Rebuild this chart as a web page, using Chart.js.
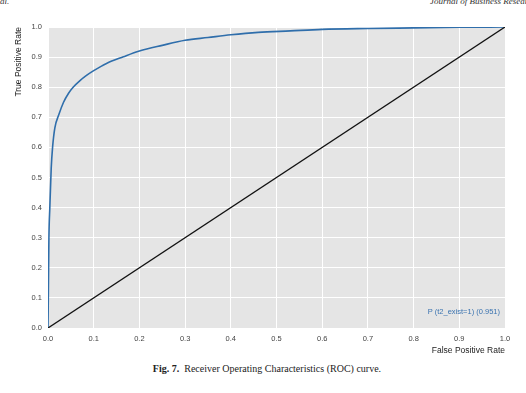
<!DOCTYPE html>
<html>
<head>
<meta charset="utf-8">
<script src="https://cdn.jsdelivr.net/npm/chart.js@4/dist/chart.umd.min.js"></script>
<style>
  html, body { margin:0; padding:0; background:#fff; width:526px; height:393px; overflow:hidden; }
  #wrap { position:absolute; left:0; top:0; width:526px; height:360px; }
  .hdr { position:absolute; top:-4px; font-family:"Liberation Serif", serif; font-style:italic; font-size:9px; color:#333; white-space:nowrap; }
  #cap { position:absolute; top:363px; left:4px; width:526px; text-align:center; font-family:"Liberation Serif", serif; font-size:10px; color:#222; }
</style>
</head>
<body>
<div class="hdr" style="left:0px;">al.</div>
<div class="hdr" style="left:430px;">Journal of Business Research</div>
<div id="wrap"><canvas id="c" width="526" height="360"></canvas></div>
<div id="cap"><b>Fig. 7.</b>&nbsp; Receiver Operating Characteristics (ROC) curve.</div>
<script>
// ROC curve
const fpr = [0, 0.001, 0.002, 0.004, 0.007, 0.010, 0.015, 0.024, 0.034, 0.045, 0.055, 0.07, 0.085, 0.1, 0.128, 0.165, 0.2, 0.25, 0.3, 0.35, 0.4, 0.46, 0.53, 0.6, 0.7, 0.8, 0.9, 1.0];
const tpr = [0, 0.15, 0.30, 0.40, 0.53, 0.60, 0.665, 0.71, 0.75, 0.78, 0.80, 0.822, 0.840, 0.855, 0.879, 0.901, 0.920, 0.939, 0.956, 0.965, 0.974, 0.982, 0.987, 0.992, 0.995, 0.997, 0.999, 1.0];
const diagX = [0, 1];
const diagY = [0, 1];
const legendLabel = "P (t2_exist=1) (0.951)";
const xTitle = "False Positive Rate";
const yTitle = "True Positive Rate";

const rocPts = fpr.map((x, i) => ({x: x, y: tpr[i]}));
const diagPts = diagX.map((x, i) => ({x: x, y: diagY[i]}));

const bgPlugin = {
  id: 'bg',
  beforeDraw(chart) {
    const {ctx, chartArea: a} = chart;
    ctx.save();
    ctx.fillStyle = '#e5e5e5';
    ctx.fillRect(a.left, a.top, a.right - a.left, a.bottom - a.top);
    ctx.restore();
  },
  afterDatasetsDraw(chart) {
    const {ctx, chartArea: a} = chart;
    ctx.save();
    ctx.fillStyle = '#3a73b0';
    ctx.font = '7.5px "Liberation Sans", Arial, sans-serif';
    ctx.textAlign = 'right';
    ctx.textBaseline = 'middle';
    ctx.fillText(legendLabel, a.right - 5, a.bottom - 16);
    ctx.restore();
  }
};

const tickFont = {family: '"Liberation Sans", Arial, sans-serif', size: 7.5};
const titleFont = {family: '"Liberation Sans", Arial, sans-serif', size: 8.5};

new Chart(document.getElementById('c'), {
  type: 'scatter',
  data: {
    datasets: [
      { data: diagPts, showLine: true, borderColor: '#111', borderWidth: 1.3, pointRadius: 0, fill: false },
      { data: rocPts, showLine: true, borderColor: '#2f6eab', borderWidth: 1.6, pointRadius: 0, fill: false, cubicInterpolationMode: 'monotone' }
    ]
  },
  options: {
    responsive: false,
    animation: false,
    layout: { padding: { left: 0, top: 27, right: 21, bottom: 0 } },
    plugins: { legend: { display: false }, tooltip: { enabled: false } },
    scales: {
      x: {
        type: 'linear', min: 0, max: 1,
        afterFit(s) { s.height = 32; },
        grid: { color: '#ffffff', lineWidth: 1, drawTicks: false },
        border: { display: false },
        ticks: { stepSize: 0.1, padding: 6, color: '#444', font: tickFont, callback: v => Number(v).toFixed(1), maxRotation: 0 },
        title: { display: true, text: xTitle, align: 'end', color: '#222', font: titleFont, padding: { top: 0, bottom: 4 } }
      },
      y: {
        type: 'linear', min: 0, max: 1,
        afterFit(s) { s.width = 48; },
        grid: { color: '#ffffff', lineWidth: 1, drawTicks: false },
        border: { display: false },
        ticks: { stepSize: 0.1, padding: 6, color: '#444', font: tickFont, callback: v => Number(v).toFixed(1) },
        title: { display: true, text: yTitle, align: 'end', color: '#222', font: titleFont, padding: { top: 14, bottom: 0 } }
      }
    }
  },
  plugins: [bgPlugin]
});
</script>
</body>
</html>
